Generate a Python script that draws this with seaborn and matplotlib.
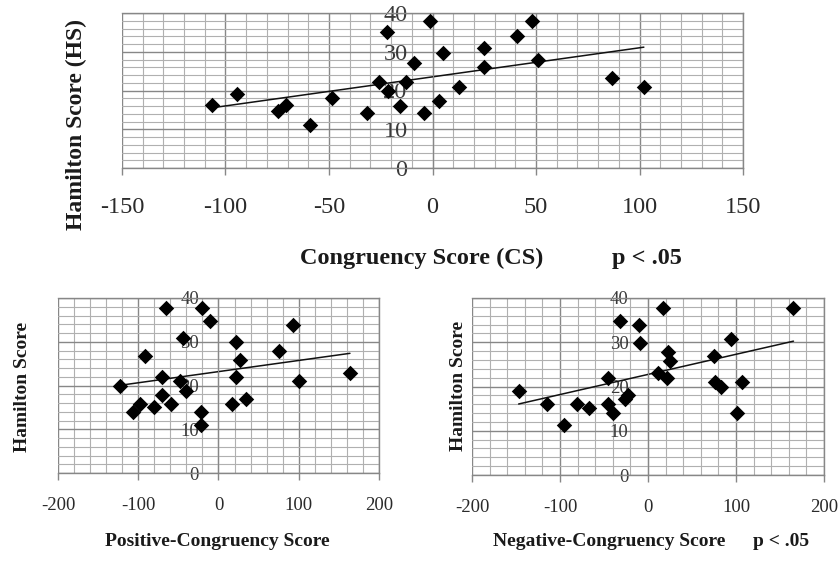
import matplotlib
matplotlib.use("Agg")
import matplotlib.pyplot as plt
from matplotlib.ticker import MultipleLocator
import seaborn as sns
import numpy as np

# ---------------- data ----------------
cs_x = [-106.4, -94.3, -74.4, -70.7, -59.4, -48.6, -31.5, -25.9, -22.1, -21.6,
        -15.9, -12.7, -8.7, -3.9, -1.4, 3.1, 5.0, 13.0, 24.8, 24.8,
        40.7, 48.0, 50.9, 86.8, 102.1]
cs_y = [16.2, 19.1, 14.8, 16.2, 11.0, 18.0, 14.1, 22.1, 35.2, 19.9,
        16.0, 22.3, 27.0, 14.1, 38.0, 17.4, 29.8, 21.0, 30.9, 26.0,
        34.1, 38.0, 27.9, 23.1, 21.0]

pos_x = [-123.1, -106.4, -98.1, -91.1, -80.7, -70.3, -69.9, -64.9, -58.6, -48.2,
         -44.1, -40.7, -22.0, -21.2, -20.0, -10.8, 16.2, 21.6, 21.6, 26.6,
         33.7, 75.7, 93.1, 100.6, 163.8]
pos_y = [19.8, 13.9, 15.8, 26.8, 15.1, 17.9, 21.9, 37.7, 15.8, 21.1,
         30.9, 18.8, 13.9, 10.9, 37.7, 34.7, 15.8, 21.9, 29.9, 25.9,
         17.0, 27.8, 33.8, 21.0, 22.9]

neg_x = [-147.0, -114.3, -95.2, -81.1, -66.7, -45.0, -45.0, -40.0, -31.6, -25.9,
         -23.2, -9.9, -8.8, 11.0, 17.1, 22.5, 24.8, 21.7, 75.0, 75.8,
         83.4, 94.1, 101.7, 106.3, 165.3]
neg_y = [19.0, 16.1, 11.2, 16.1, 15.1, 21.9, 16.1, 14.1, 34.7, 17.2,
         18.1, 33.8, 29.8, 23.0, 37.7, 27.9, 25.8, 21.9, 26.9, 21.1,
         20.0, 30.8, 14.1, 21.1, 37.7]

top_xlabel = "Congruency Score (CS)"
top_ylabel = "Hamilton Score (HS)"
pos_xlabel = "Positive-Congruency Score"
neg_xlabel = "Negative-Congruency Score"
bottom_ylabel = "Hamilton Score"
p_text = "p < .05"

# ---------------- style ----------------
sns.set_style("white")
plt.rcParams["font.family"] = ["Liberation Serif", "DejaVu Serif"]
plt.rcParams["axes.unicode_minus"] = False

W, H = 840, 561
fig = plt.figure(figsize=(W / 100, H / 100), dpi=100)


def px_axes(l, t, r, b):
    return fig.add_axes([l / W, 1 - b / H, (r - l) / W, (b - t) / H])


def style_axes(ax, xlim, xmaj, xmin, tick_fs_x, tick_fs_y, ypad, xpad):
    ax.set_xlim(*xlim)
    ax.set_ylim(0, 40)
    ax.xaxis.set_major_locator(MultipleLocator(xmaj))
    ax.xaxis.set_minor_locator(MultipleLocator(xmin))
    ax.yaxis.set_major_locator(MultipleLocator(10))
    ax.yaxis.set_minor_locator(MultipleLocator(2))
    ax.set_axisbelow(True)
    ax.grid(which="major", color="#878787", lw=1.0)
    ax.grid(which="minor", color="#b0b0b0", lw=0.8)
    ax.spines["left"].set_position(("data", 0))
    ax.spines["left"].set_color("#878787")
    for s in ("top", "right", "bottom"):
        ax.spines[s].set_color("#878787")
        ax.spines[s].set_linewidth(1.0)
    ax.tick_params(axis="x", which="major", direction="out", length=5,
                   width=1, color="#878787", labelsize=tick_fs_x,
                   labelcolor="#2a2a2a", pad=xpad, bottom=True)
    ax.tick_params(axis="x", which="minor", length=0)
    ax.tick_params(axis="y", which="both", length=0, labelsize=tick_fs_y,
                   labelcolor="#3a3a3a", pad=ypad, left=True)
    ax.set_xlabel("")
    ax.set_ylabel("")


def draw(ax, x, y, ms):
    sns.regplot(x=np.array(x), y=np.array(y), ax=ax, ci=None, marker="D",
                color="black",
                scatter_kws={"s": ms, "linewidths": 0, "alpha": 1, "zorder": 3},
                line_kws={"lw": 1.1, "color": "#111111", "zorder": 2})


# ---- top chart ----
ax1 = px_axes(122, 13, 743, 168)
draw(ax1, cs_x, cs_y, 62)
style_axes(ax1, (-150, 150), 50, 10, 17.5, 17.5, 18, 16)

fig.text(300 / W, 1 - 258 / H, top_xlabel, ha="left", va="center",
         fontsize=17.5, fontweight="bold", color="#1a1a1a")
fig.text(612 / W, 1 - 258 / H, p_text, ha="left", va="center",
         fontsize=17.5, fontweight="bold", color="#1a1a1a")
fig.text(76 / W, 1 - 124 / H, top_ylabel, ha="center", va="center",
         rotation=90, fontsize=17, fontweight="bold", color="#1a1a1a")

# ---- bottom left ----
ax2 = px_axes(58, 298, 379, 473)
draw(ax2, pos_x, pos_y, 62)
style_axes(ax2, (-200, 200), 100, 20, 13.5, 13.5, 14, 12)
fig.text(217 / W, 1 - 542 / H, pos_xlabel, ha="center", va="center",
         fontsize=14, fontweight="bold", color="#1a1a1a")
fig.text(23 / W, 1 - 387 / H, bottom_ylabel, ha="center", va="center",
         rotation=90, fontsize=14, fontweight="bold", color="#1a1a1a")

# ---- bottom right ----
ax3 = px_axes(472, 298, 824, 475)
draw(ax3, neg_x, neg_y, 62)
style_axes(ax3, (-200, 200), 100, 20, 13.5, 13.5, 14, 12)
fig.text(493 / W, 1 - 542 / H, neg_xlabel, ha="left", va="center",
         fontsize=14, fontweight="bold", color="#1a1a1a")
fig.text(753 / W, 1 - 542 / H, p_text, ha="left", va="center",
         fontsize=14, fontweight="bold", color="#1a1a1a")
fig.text(459 / W, 1 - 386 / H, bottom_ylabel, ha="center", va="center",
         rotation=90, fontsize=14, fontweight="bold", color="#1a1a1a")

fig.savefig("out.png", dpi=100)
